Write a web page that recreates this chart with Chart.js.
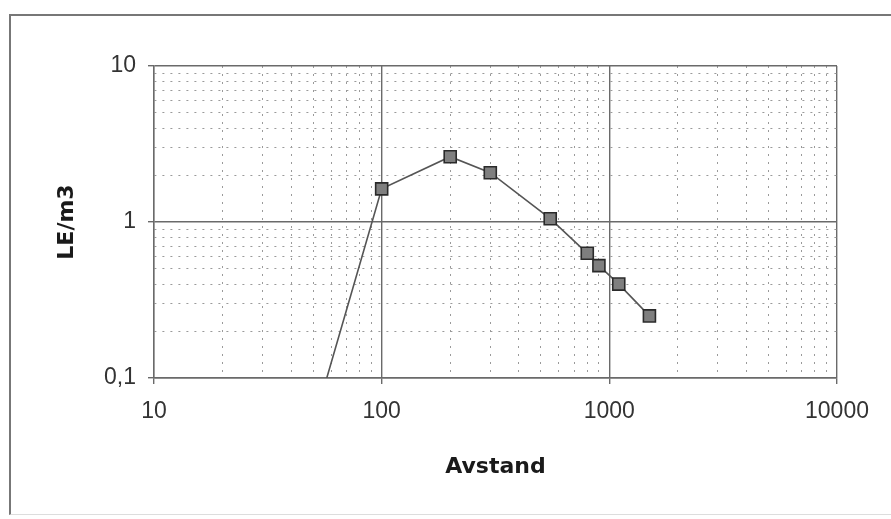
<!DOCTYPE html>
<html>
<head>
<meta charset="utf-8">
<script src="https://cdn.jsdelivr.net/npm/chart.js@4/dist/chart.umd.min.js"></script>
<style>
  html, body { margin: 0; padding: 0; background: #fff; }
  #wrap { position: relative; width: 891px; height: 519px; overflow: hidden; }
  #frame { position: absolute; left: 9px; top: 14px; width: 900px; height: 501px;
           border-left: 2px solid #777; border-top: 2px solid #777; border-bottom: 1px solid #ddd; box-sizing: border-box; }
  canvas { position: absolute; left: 0; top: 0; }
</style>
</head>
<body>
<div id="wrap">
  <div id="frame"></div>
  <canvas id="c" width="891" height="519"></canvas>
</div>
<script>
// Data
const distance = [50, 100, 200, 300, 550, 800, 900, 1100, 1500];
const leM3     = [0.05, 1.63, 2.62, 2.07, 1.05, 0.63, 0.525, 0.40, 0.25];

// Axis ticks
const xMajorTicks = [10, 100, 1000, 10000];
const xTickLabels = ['10', '100', '1000', '10000'];
const yMajorTicks = [0.1, 1, 10];
const yTickLabels = ['0,1', '1', '10'];
const mantissas = [1, 2, 3, 4, 5, 6, 7, 8, 9];

function allTicks(majors) {
  const out = [];
  for (let i = 0; i < majors.length; i++) {
    if (i === majors.length - 1) { out.push(majors[i]); break; }
    for (const m of mantissas) out.push(+(majors[i] * m).toPrecision(6));
  }
  return out;
}
function isMajor(v, majors) { return majors.some(m => Math.abs(m - v) / m < 1e-6); }

function axis(majors, labels, pad, extra) {
  return Object.assign({
    type: 'logarithmic',
    min: majors[0], max: majors[majors.length - 1],
    afterBuildTicks: s => { s.ticks = allTicks(majors).map(v => ({ value: v })); },
    ticks: {
      autoSkip: false, maxRotation: 0, minRotation: 0,
      padding: pad,
      color: '#333',
      font: { family: 'Liberation Sans', size: 23 },
      callback: v => { const i = majors.findIndex(m => Math.abs(m - v) / m < 1e-6); return i >= 0 ? labels[i] : ''; }
    },
    grid: {
      color: c => (c.tick && isMajor(c.tick.value, majors)) ? '#6a6a6a' : '#9a9a9a',
      lineWidth: c => (c.tick && isMajor(c.tick.value, majors)) ? 1.4 : 1,
      tickColor: c => (c.tick && isMajor(c.tick.value, majors)) ? '#6a6a6a' : 'rgba(0,0,0,0)',
      tickLength: 6
    },
    border: {
      display: true, color: '#6a6a6a', width: 1.4,
      dash: c => (c.tick && !isMajor(c.tick.value, majors)) ? [2, 6] : []
    }
  }, extra);
}

new Chart(document.getElementById('c'), {
  type: 'scatter',
  data: {
    datasets: [{
      data: distance.map((x, i) => ({ x: x, y: leM3[i] })),
      showLine: true,
      borderColor: '#555',
      borderWidth: 1.6,
      pointStyle: 'rect',
      pointRadius: 8.5,
      pointHoverRadius: 8.5,
      pointBackgroundColor: '#7f7f7f',
      pointBorderColor: '#2a2a2a',
      pointBorderWidth: 1.6
    }]
  },
  options: {
    responsive: false,
    animation: false,
    devicePixelRatio: 1,
    layout: { padding: { left: 54, top: 66, right: 54, bottom: 39 } },
    plugins: { legend: { display: false }, tooltip: { enabled: false } },
    scales: {
      x: axis(xMajorTicks, xTickLabels, 14, {
        position: 'bottom',
        afterFit: s => { s.height = 102; },
        title: { display: true, text: 'Avstand', color: '#1a1a1a',
                 font: { family: 'DejaVu Sans', size: 22, weight: 'bold' }, padding: { top: 0, bottom: 0 } }
      }),
      y: axis(yMajorTicks, yTickLabels, 12, {
        position: 'left',
        afterFit: s => { s.width = 100; },
        title: { display: true, text: 'LE/m3', color: '#1a1a1a',
                 font: { family: 'DejaVu Sans', size: 22, weight: 'bold' }, padding: { top: 0, bottom: 0 } }
      })
    }
  }
});
</script>
</body>
</html>
